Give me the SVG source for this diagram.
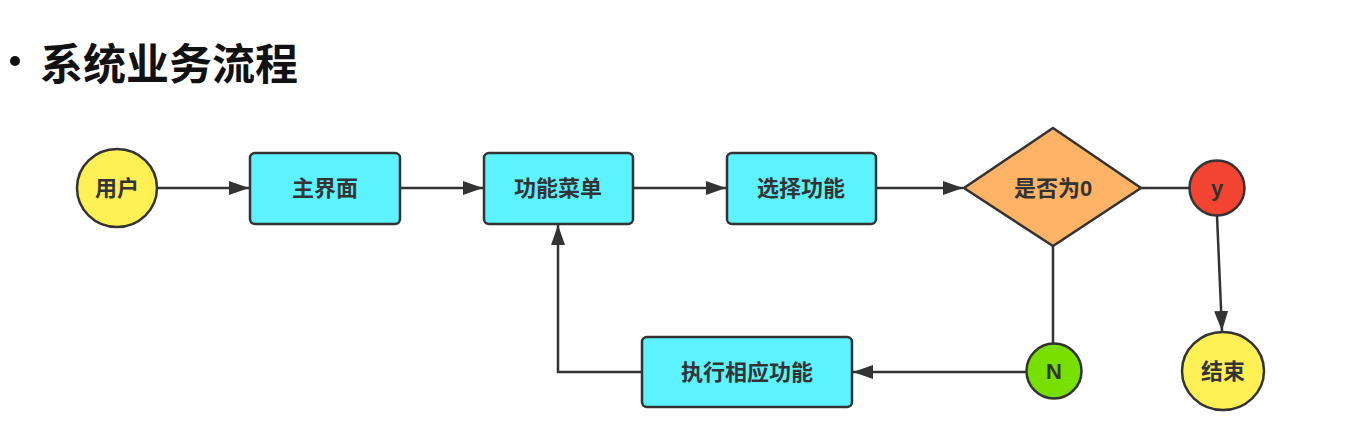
<svg xmlns="http://www.w3.org/2000/svg" width="1352" height="438" viewBox="0 0 1352 438">
<style>
.t{font-family:"Liberation Sans","Noto Sans CJK SC",sans-serif;font-size:22px;fill:#333;text-anchor:middle;dominant-baseline:central;font-weight:bold}
.box{fill:#5DF2FF;stroke:#333;stroke-width:2.5}
.line{stroke:#333;stroke-width:2.5;fill:none}
</style>
<defs>
<marker id="arr" viewBox="0 0 20 14" refX="20" refY="7" markerWidth="20" markerHeight="14" markerUnits="userSpaceOnUse" orient="auto">
<path d="M0,0 L20,7 L0,14 Z" fill="#333"/>
</marker>
</defs>
<rect width="1352" height="438" fill="#fff"/>
<g id="title">
<circle cx="15" cy="61" r="5" fill="#111"/>
<text x="40" y="61" font-family="'Noto Sans CJK SC',sans-serif" font-size="43" font-weight="bold" fill="#111" dominant-baseline="central">系统业务流程</text>
</g>
<g id="connectors">
<line class="line" x1="158" y1="188" x2="249" y2="188" marker-end="url(#arr)"/>
<line class="line" x1="401" y1="188" x2="483" y2="188" marker-end="url(#arr)"/>
<line class="line" x1="634" y1="188" x2="726" y2="188" marker-end="url(#arr)"/>
<line class="line" x1="877" y1="188" x2="963" y2="188" marker-end="url(#arr)"/>
<line class="line" x1="1141" y1="188" x2="1190" y2="188"/>
<line class="line" x1="1053" y1="246" x2="1053" y2="343"/>
<line class="line" x1="1217" y1="216" x2="1222" y2="331" marker-end="url(#arr)"/>
<line class="line" x1="1026" y1="372" x2="853" y2="372" marker-end="url(#arr)"/>
<polyline class="line" points="641,372 558,372 558,225" marker-end="url(#arr)"/>
</g>
<g id="user">
<ellipse cx="117" cy="188" rx="40" ry="39" fill="#FFF155" stroke="#333" stroke-width="2.5"/>
<text class="t" x="117" y="188">用户</text>
</g>
<g id="main">
<rect class="box" x="250" y="153" width="150" height="71" rx="5"/>
<text class="t" x="325" y="188">主界面</text>
</g>
<g id="menu">
<rect class="box" x="484" y="153" width="149" height="71" rx="5"/>
<text class="t" x="558" y="188">功能菜单</text>
</g>
<g id="select">
<rect class="box" x="727" y="153" width="149" height="71" rx="5"/>
<text class="t" x="801" y="188">选择功能</text>
</g>
<g id="decision">
<polygon points="1053,128 1141,188 1053,246 964,188" fill="#FFB366" stroke="#333" stroke-width="2.5"/>
<text class="t" x="1053" y="188">是否为0</text>
</g>
<g id="yes">
<circle cx="1217" cy="188" r="27.5" fill="#F24431" stroke="#333" stroke-width="2.5"/>
<text class="t" x="1217" y="188">y</text>
</g>
<g id="end">
<ellipse cx="1223" cy="371" rx="41" ry="39" fill="#FFF155" stroke="#333" stroke-width="2.5"/>
<text class="t" x="1223" y="371">结束</text>
</g>
<g id="no">
<circle cx="1054" cy="371" r="27.5" fill="#77E000" stroke="#333" stroke-width="2.5"/>
<text class="t" x="1054" y="371">N</text>
</g>
<g id="exec">
<rect class="box" x="642" y="337" width="210" height="70" rx="5"/>
<text class="t" x="747" y="372">执行相应功能</text>
</g>
</svg>
